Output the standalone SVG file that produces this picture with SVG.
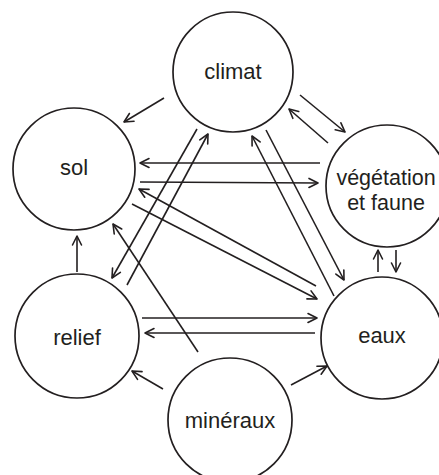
<svg xmlns="http://www.w3.org/2000/svg" width="439" height="475" viewBox="0 0 439 475">
<style>
.node circle{fill:none;stroke:#231f20;stroke-width:1.7}
.node text{font-family:"Liberation Sans",Arial,sans-serif;font-size:22px;fill:#231f20;text-anchor:middle}
.node text.sm{font-size:21.5px}
.c line{stroke:#231f20;stroke-width:1.6;fill:none}
.a{marker-end:url(#ah)}
</style>
<defs>
<marker id="ah" viewBox="0 0 12 12" refX="11" refY="6" markerWidth="12" markerHeight="12" markerUnits="userSpaceOnUse" orient="auto">
<path d="M2,1.5 L11,6 L2,10.5" fill="none" stroke="#231f20" stroke-width="1.6" stroke-linecap="round" stroke-linejoin="round"/>
</marker>
</defs>
<rect width="439" height="475" fill="#fff"/>
<g id="climat" class="node"><circle cx="233" cy="72" r="60"/><text x="233" y="79">climat</text></g>
<g id="sol" class="node"><circle cx="74" cy="169" r="61"/><text x="74" y="175">sol</text></g>
<g id="vegetation" class="node"><circle cx="387" cy="186" r="61"/><text class="sm" x="386" y="185">végétation</text><text class="sm" x="386" y="210">et faune</text></g>
<g id="relief" class="node"><circle cx="77" cy="336" r="62"/><text x="77" y="345">relief</text></g>
<g id="eaux" class="node"><circle cx="382" cy="338" r="61"/><text x="382" y="343">eaux</text></g>
<g id="mineraux" class="node"><circle cx="230" cy="420" r="62"/><text x="230" y="428">minéraux</text></g>
<g id="connectors" class="c">
<line class="a" x1="164" y1="98" x2="124" y2="122"/>
<line class="a" x1="300" y1="95" x2="345" y2="132"/>
<line class="a" x1="328" y1="143" x2="289" y2="109"/>
<line class="a" x1="320" y1="163" x2="140" y2="163"/>
<line class="a" x1="140" y1="182" x2="318" y2="183"/>
<line class="a" x1="127" y1="285" x2="208" y2="134"/>
<line class="a" x1="197" y1="129" x2="112" y2="278"/>
<line class="a" x1="198" y1="352" x2="113" y2="224"/>
<line class="a" x1="266" y1="130" x2="344" y2="280"/>
<line class="a" x1="334" y1="296" x2="252" y2="136"/>
<line class="a" x1="316" y1="286" x2="139" y2="189"/>
<line class="a" x1="132" y1="204" x2="317" y2="299"/>
<line class="a" x1="142" y1="318" x2="317" y2="318"/>
<line class="a" x1="315" y1="333" x2="145" y2="333"/>
<line class="a" x1="163" y1="389" x2="132" y2="371"/>
<line class="a" x1="291" y1="385" x2="327" y2="366"/>
<line class="a" x1="77" y1="272" x2="77" y2="236"/>
<line class="a" x1="378" y1="272" x2="378" y2="250"/>
<line class="a" x1="396" y1="250" x2="396" y2="272"/>
</g>
</svg>
